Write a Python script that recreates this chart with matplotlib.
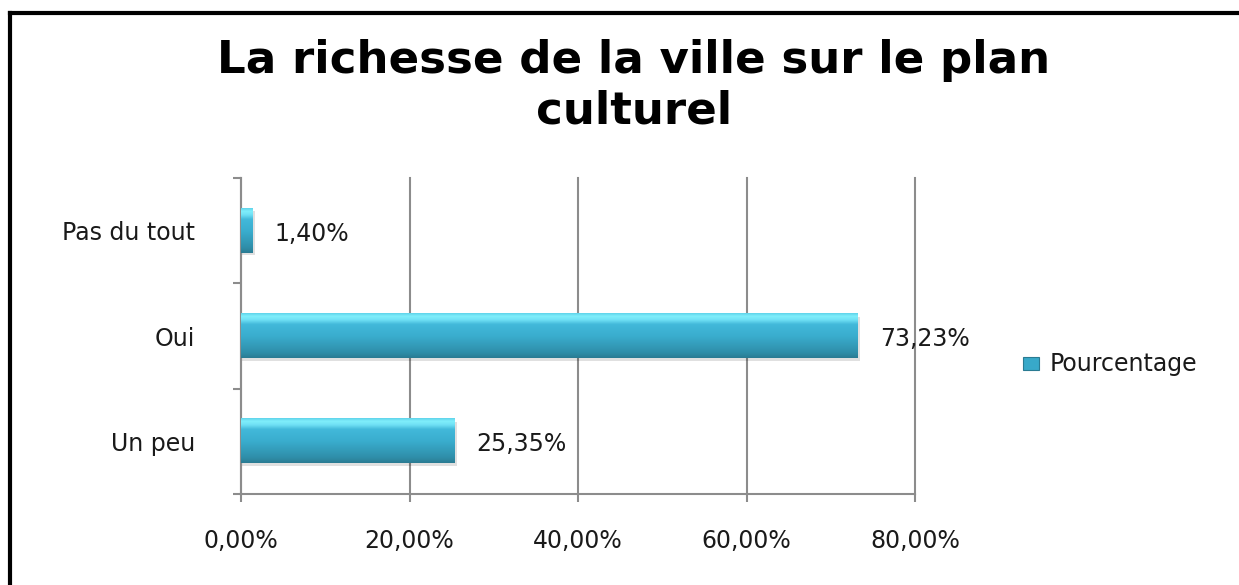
import numpy as np
import matplotlib
matplotlib.use("Agg")
import matplotlib.pyplot as plt
from matplotlib.colors import LinearSegmentedColormap
from matplotlib.ticker import FuncFormatter

categories = ["Un peu", "Oui", "Pas du tout"]
values = [25.35, 73.23, 1.40]
value_labels = ["25,35%", "73,23%", "1,40%"]
xticks = [0, 20, 40, 60, 80]
series_name = "Pourcentage"
title = "La richesse de la ville sur le plan\nculturel"

fig = plt.figure(figsize=(12.39, 5.85), dpi=100)
ax = fig.add_axes([241/1239, 1-494/585, (915-241)/1239, (494-178)/585])

label_font = "DejaVu Sans"
fs = 17
txt_color = "#1a1a1a"
grid_color = "#8c8c8c"

y = np.arange(len(categories))
bars = ax.barh(y, values, height=0.42, color="#38a9c9", zorder=3)

cmap = LinearSegmentedColormap.from_list(
    "bar", [(0.0, "#2a7b92"), (0.12, "#2f8ea9"), (0.5, "#3aaecf"),
            (0.75, "#42b9da"), (0.85, "#6fe0f5"), (0.93, "#80eefb"), (1.0, "#5fd3ea")])
grad = np.linspace(0, 1, 256).reshape(-1, 1)
for b in bars:
    x0, y0, w, h = b.get_x(), b.get_y(), b.get_width(), b.get_height()
    ax.add_patch(plt.Rectangle((x0, y0 - 0.025), w + 0.25, h, color="#000000",
                               alpha=0.12, zorder=2, lw=0))
    ax.imshow(grad, extent=(x0, x0 + w, y0, y0 + h), origin="lower",
              cmap=cmap, aspect="auto", zorder=4, interpolation="bilinear")
    b.set_visible(False)

for yi, v, lab in zip(y, values, value_labels):
    ax.text(v + 2.6, yi - 0.03, lab, va="center", ha="left",
            fontsize=fs, family=label_font, color=txt_color, zorder=5)

ax.set_xlim(0, 80)
ax.set_ylim(-0.5, len(categories) - 0.5)
ax.set_xticks(xticks)
ax.xaxis.set_major_formatter(FuncFormatter(lambda v, p: f"{v:.2f}%".replace(".", ",")))
ax.set_yticks(y)
ax.set_yticklabels(categories)
ax.set_yticks(np.arange(-0.5, len(categories)), minor=True)
ax.tick_params(axis="y", which="major", length=0, pad=33, labelsize=fs,
               labelcolor=txt_color)
ax.tick_params(axis="y", which="minor", length=6, width=1.5, color=grid_color)
ax.tick_params(axis="x", which="major", length=6, width=1.5, color=grid_color,
               pad=19, labelsize=fs, labelcolor=txt_color)
for lab in ax.get_xticklabels() + ax.get_yticklabels():
    lab.set_family(label_font)

ax.grid(axis="x", color=grid_color, lw=1.5, zorder=1)
for gl in ax.get_xgridlines():
    gl.set_clip_on(False)
ax.set_axisbelow(True)
for s in ["top", "right"]:
    ax.spines[s].set_visible(False)
for s in ["left", "bottom"]:
    ax.spines[s].set_color(grid_color)
    ax.spines[s].set_linewidth(1.5)

# legend
fig.patches.append(plt.Rectangle((1023/1239, 1-370/585), 16/1239, 13/585,
                                 transform=fig.transFigure, color="#38a9c9",
                                 ec="#2a7b92", lw=0.8))
fig.text(1050/1239, 1-364/585, series_name, fontsize=fs, family=label_font,
         color=txt_color, va="center", ha="left")

fig.text(634/1239, 1-86/585, title, ha="center", va="center", fontsize=32.5,
         family="DejaVu Sans", weight="bold", color="#000000", linespacing=1.22)

# outer border
fig.add_artist(plt.Line2D([10/1239, 10/1239], [0, 1-13/585], transform=fig.transFigure,
                          color="black", lw=3))
fig.add_artist(plt.Line2D([10/1239, 1], [1-13/585, 1-13/585], transform=fig.transFigure,
                          color="black", lw=3))

fig.savefig("out.png", dpi=100)
